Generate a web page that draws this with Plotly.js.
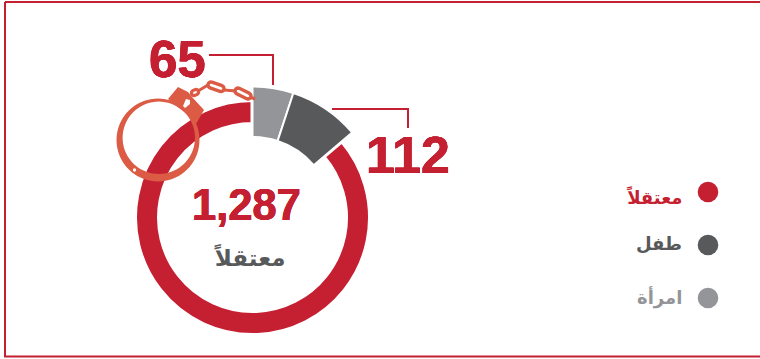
<!DOCTYPE html>
<html>
<head>
<meta charset="utf-8">
<script src="https://cdn.plot.ly/plotly-3.0.1.min.js"></script>
<style>html,body{margin:0;padding:0;background:#fff}#chart{width:760px;height:359px}</style>
</head>
<body>
<div id="chart"></div>
<script>
// Detainees by group; women and children are shown as a share of the total.
const total = 1287;
const groupNames = ['معتقلاً', 'طفل', 'امرأة'];
const groupValues = [1287, 112, 65];
const groupColors = ['#C51F32', '#58595B', '#939598'];
const centerCaption = 'معتقلاً';
const cuffColor = '#DC5B44';

const W = 760, H = 359;
const px = x => x / W;
const py = y => 1 - y / H;

// Pie domain for a circle given in pixels
const circleDomain = (cx, cy, r) => ({ x: [px(cx - r), px(cx + r)], y: [py(cy + r), py(cy - r)] });

const cx = 252.5, cy = 217.5;
const women = groupValues[2], children = groupValues[1];
const clear = 'rgba(0,0,0,0)';
const common = { type: 'pie', sort: false, direction: 'clockwise', rotation: 0, textinfo: 'none', hoverinfo: 'skip', showlegend: false };

// Thin ring: remainder after the two highlighted groups
const ringGap = 4;
const ringOuter = 115.5 + ringGap / 2, ringInner = 95.5 - ringGap / 2;
const ring = Object.assign({}, common, {
  values: [women + children, total - women - children],
  domain: circleDomain(cx, cy, ringOuter),
  hole: ringInner / ringOuter,
  marker: { colors: [clear, groupColors[0]], line: { color: ['rgba(0,0,0,0)', '#fff'], width: [0, ringGap] } }
});

// Thick ring: highlighted groups over the same scale
const sepWidth = 2;
const thickOuter = 130 + sepWidth / 2, thickInner = 81.5 - sepWidth / 2;
const thick = Object.assign({}, common, {
  values: [women, children, total - women - children],
  domain: circleDomain(cx, cy, thickOuter),
  hole: thickInner / thickOuter,
  marker: { colors: [groupColors[2], groupColors[1], clear], line: { color: ['#fff', '#fff', clear], width: [sepWidth, sepWidth, 0] } }
});

// Shapes are authored in pixels and converted to paper fractions
function polyPath(points) {
  return 'M' + points.map(p => px(p[0]) + ',' + py(p[1])).join('L');
}
function line(points, color, width) {
  return { type: 'path', xref: 'paper', yref: 'paper', path: polyPath(points), line: { color, width }, fillcolor: clear, layer: 'above' };
}
function poly(points, color) {
  return { type: 'path', xref: 'paper', yref: 'paper', path: polyPath(points) + 'Z', line: { width: 0 }, fillcolor: color, layer: 'above' };
}
function circle(x, y, r, fill, stroke, width) {
  return { type: 'circle', xref: 'paper', yref: 'paper', x0: px(x - r), x1: px(x + r), y0: py(y + r), y1: py(y - r),
           fillcolor: fill, line: { color: stroke || clear, width: width || 0 }, layer: 'above' };
}
function arcPoints(x, y, r, from, to, n) {
  const pts = [];
  for (let i = 0; i <= n; i++) {
    const a = from + (to - from) * i / n;
    pts.push([x + r * Math.cos(a), y + r * Math.sin(a)]);
  }
  return pts;
}
// Cuff band: outer and inner circles are off-centre, so its thickness varies
function band(x0, y0, r0, x1, y1, r1, color) {
  const outer = arcPoints(x0, y0, r0, 0, 2 * Math.PI, 72);
  const inner = arcPoints(x1, y1, r1, 2 * Math.PI, 0, 72);
  return { type: 'path', xref: 'paper', yref: 'paper', path: polyPath(outer) + 'Z ' + polyPath(inner) + 'Z',
           line: { width: 0 }, fillcolor: color, layer: 'above' };
}
// One chain link: an outlined stadium between two points
function link(x0, y0, x1, y1, r, width) {
  const a = Math.atan2(y1 - y0, x1 - x0);
  const pts = arcPoints(x1, y1, r, a - Math.PI / 2, a + Math.PI / 2, 8)
    .concat(arcPoints(x0, y0, r, a + Math.PI / 2, a + 3 * Math.PI / 2, 8));
  return { type: 'path', xref: 'paper', yref: 'paper', path: polyPath(pts) + 'Z', line: { color: cuffColor, width }, fillcolor: '#fff', layer: 'above' };
}

const legendY = [192, 245, 298];
const shapes = [
  // Outer frame
  line([[5, 2], [760, 2]], '#C51F32', 2),
  line([[5, 2], [5, 356.5], [760, 356.5]], '#C51F32', 2),
  // Leader lines
  line([[209, 55], [273, 55], [273, 85]], '#C51F32', 2),
  line([[332, 109], [408, 109], [408, 128]], '#C51F32', 2),
  // Handcuff
  band(158, 140, 41.5, 158.8, 137.8, 36.2, cuffColor),
  poly([[168, 99], [178, 87], [188, 92], [192, 97], [204, 110], [196, 124], [192, 118], [184.4, 112], [175, 105]], cuffColor),
  poly([[186, 99], [190, 100], [190, 104], [185, 108], [183, 106]], '#fff'),
  circle(134.5, 170, 2.4, '#fff', cuffColor, 1.5),
  line([[198, 91], [208, 85]], cuffColor, 3),
  line([[224, 90], [236, 91]], cuffColor, 3),
  line([[250, 97], [255, 99]], cuffColor, 3),
  link(194, 93, 196, 92, 2.6, 3.2),
  link(211, 85, 221, 88.5, 3, 3.4),
  link(238, 91, 248, 96, 3, 3.4),
  // Legend markers
  circle(708, legendY[0], 10.3, groupColors[0]),
  circle(708, legendY[1], 10.3, groupColors[1]),
  circle(708, legendY[2], 10.3, groupColors[2])
];

// Numerals are deepened with a tight text shadow in the text's own colour
function label(text, x, y, size, color, anchor, family, heavy) {
  const h = heavy + 'px ';
  const s = heavy ? [h + '0 0 ' + color, '-' + h + '0 0 ' + color, '0 ' + h + '0 ' + color, '0 -' + h + '0 ' + color].join(', ') : 'none';
  return { xref: 'paper', yref: 'paper', x: px(x), y: py(y), text, showarrow: false, xanchor: anchor || 'center', yanchor: 'middle',
           font: { family: family, size, color, shadow: s }, borderpad: 0 };
}
const latin = '"Liberation Sans", Arial, sans-serif';
const arabic = '"DejaVu Sans", sans-serif';

const annotations = [
  label('<b>' + women + '</b>', 177.5, 59.5, 51, groupColors[0], 'center', latin, 0.4),
  label('<b>' + children + '</b>', 408, 155, 52, groupColors[0], 'center', latin, 0.4),
  label('<b>' + total.toLocaleString('en-US') + '</b>', 246.5, 205, 43.5, groupColors[0], 'center', latin, 0.4),
  label('<b>' + centerCaption + '</b>', 249.5, 257, 23, groupColors[1], 'center', arabic, 0),
  label('<b>' + groupNames[0] + '</b>', 683, 197, 18, groupColors[0], 'right', arabic, 0),
  label('<b>' + groupNames[1] + '</b>', 683, 243, 18, groupColors[1], 'right', arabic, 0),
  label('<b>' + groupNames[2] + '</b>', 683, 297, 18, groupColors[2], 'right', arabic, 0)
];

Plotly.newPlot('chart', [ring, thick], {
  width: W, height: H,
  margin: { l: 0, r: 0, t: 0, b: 0 },
  paper_bgcolor: '#fff',
  showlegend: false,
  shapes, annotations
}, { displayModeBar: false, staticPlot: true });
</script>
</body>
</html>
